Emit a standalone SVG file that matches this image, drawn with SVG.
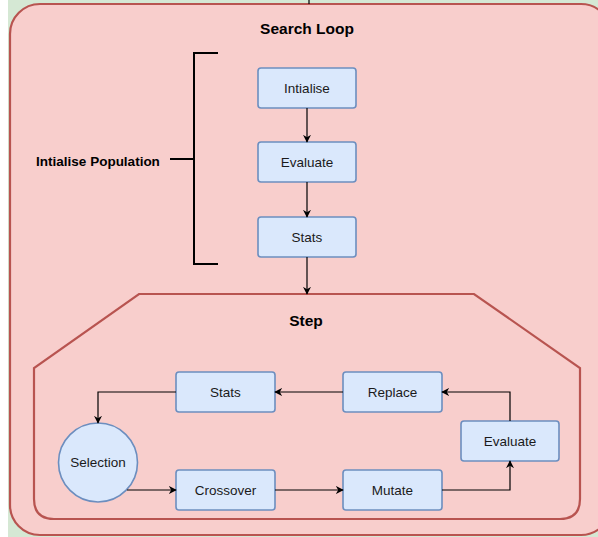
<svg xmlns="http://www.w3.org/2000/svg" width="598" height="537" viewBox="0 0 598 537">
  <style>
    .box { fill: #dae8fc; stroke: #6c8ebf; stroke-width: 1.6; }
    .lbl { font-family: "Liberation Sans", Arial, sans-serif; font-size: 13.5px; fill: #1a1a1a; text-anchor: middle; dominant-baseline: central; }
    .title { font-family: "Liberation Sans", Arial, sans-serif; font-size: 15.5px; font-weight: bold; fill: #000; text-anchor: middle; dominant-baseline: central; }
    .edge { fill: none; stroke: #000; stroke-width: 1.2; marker-end: url(#arrow); }
    .bracket { fill: none; stroke: #000; stroke-width: 2; }
  </style>
  <defs>
    <marker id="arrow" viewBox="0 0 10 10" refX="9" refY="5" markerWidth="8" markerHeight="8" markerUnits="userSpaceOnUse" orient="auto">
      <path d="M0,0 L10,5 L0,10 L3,5 Z" fill="#000"/>
    </marker>
  </defs>

  <!-- page background -->
  <rect x="0" y="0" width="598" height="537" fill="#ffffff"/>
  <rect x="8" y="0" width="590" height="537" fill="#d5e8d4"/>

  <!-- outer container -->
  <g id="search-loop">
    <rect x="10" y="4" width="601" height="531" rx="30" ry="30" fill="#f8cecc" stroke="#b85450" stroke-width="2.2"/>
    <text class="title" x="307" y="28">Search Loop</text>
  </g>

  <!-- incoming line at top edge -->
  <line x1="309" y1="0" x2="309" y2="4" stroke="#000" stroke-width="1.2"/>

  <!-- bracket annotation -->
  <g id="init-population">
    <path class="bracket" d="M218,53 H194 V264 H218"/>
    <line class="bracket" x1="170" y1="159" x2="194" y2="159"/>
    <text class="title" x="98" y="161" style="font-size:13.5px">Intialise Population</text>
  </g>

  <!-- step container -->
  <g id="step">
    <path d="M139,294 H474 L580,368 V499 Q580,519 560,519 H54 Q34,519 34,499 V368 Z" fill="#f8cecc" stroke="#b85450" stroke-width="2.2"/>
    <text class="title" x="306" y="320">Step</text>
  </g>

  <!-- initialisation nodes -->
  <g id="intialise">
    <rect class="box" x="258" y="68" width="98" height="40" rx="3"/>
    <text class="lbl" x="307" y="88">Intialise</text>
  </g>
  <g id="evaluate-init">
    <rect class="box" x="258" y="142" width="98" height="40" rx="3"/>
    <text class="lbl" x="307" y="162">Evaluate</text>
  </g>
  <g id="stats-init">
    <rect class="box" x="258" y="217" width="98" height="40" rx="3"/>
    <text class="lbl" x="307" y="237">Stats</text>
  </g>

  <!-- step nodes -->
  <g id="stats-step">
    <rect class="box" x="176" y="372" width="99" height="40" rx="3"/>
    <text class="lbl" x="225.5" y="392">Stats</text>
  </g>
  <g id="replace">
    <rect class="box" x="343" y="372" width="99" height="40" rx="3"/>
    <text class="lbl" x="392.5" y="392">Replace</text>
  </g>
  <g id="evaluate-step">
    <rect class="box" x="461" y="421" width="98" height="40" rx="3"/>
    <text class="lbl" x="510" y="441">Evaluate</text>
  </g>
  <g id="selection">
    <circle class="box" cx="98" cy="462.5" r="39.5"/>
    <text class="lbl" x="98" y="462.5">Selection</text>
  </g>
  <g id="crossover">
    <rect class="box" x="176" y="470" width="99" height="40" rx="3"/>
    <text class="lbl" x="225.5" y="490">Crossover</text>
  </g>
  <g id="mutate">
    <rect class="box" x="343" y="470" width="99" height="40" rx="3"/>
    <text class="lbl" x="392.5" y="490">Mutate</text>
  </g>

  <!-- connectors -->
  <g id="connectors">
    <path class="edge" d="M307,108 V142"/>
    <path class="edge" d="M307,182 V217"/>
    <path class="edge" d="M307,257 V294"/>
    <path class="edge" d="M343,392 H275"/>
    <path class="edge" d="M176,392 H98 V423"/>
    <path class="edge" d="M127,490 H176"/>
    <path class="edge" d="M275,490 H343"/>
    <path class="edge" d="M442,490 H510 V461"/>
    <path class="edge" d="M510,421 V392 H442"/>
  </g>
</svg>
